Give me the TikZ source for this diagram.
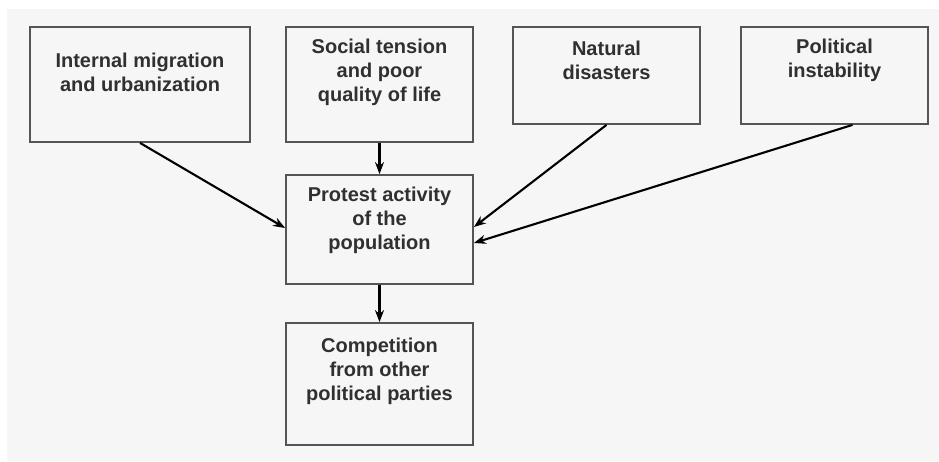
\documentclass[tikz,border=0pt]{standalone}
\usepackage{fontspec}
\setmainfont{Liberation Sans}
\usetikzlibrary{arrows.meta}
\definecolor{boxline}{HTML}{555555}
\definecolor{ink}{HTML}{303030}
\definecolor{paper}{HTML}{F6F6F6}

\begin{document}
\begin{tikzpicture}[x=1pt, y=-1pt,
  box/.style={draw=boxline, line width=1.8pt, inner sep=0pt, minimum width=187pt},
  txt/.style={align=center, text=ink, font=\fontsize{20}{24}\selectfont\bfseries},
  link/.style={->, line width=2.1pt},
  >={Stealth[length=12pt,width=9pt]}]

\useasboundingbox (0,0) rectangle (939,461);
\fill[paper] (7,9) rectangle (939,461);

\node[box, minimum width=220pt, minimum height=115pt] (mig) at (140,84.5) {};
\node[box, minimum height=115pt] (soc) at (379.5,84.5) {};
\node[box, minimum height=97pt] (nat) at (606.5,75.5) {};
\node[box, minimum height=97pt] (pol) at (834.5,75.5) {};
\node[box, minimum height=109pt] (prot) at (379.5,229.5) {};
\node[box, minimum height=122pt] (comp) at (379.5,384) {};

\node[txt] (migT) at (140,72) {Internal migration\\and urbanization};
\node[txt] (socT) at (379.5,72) {Social tension\\and poor\\quality of life};
\node[txt] (natT) at (606.5,60) {Natural\\disasters};
\node[txt] (polT) at (834.5,60) {Political\\instability};
\node[txt] (protT) at (379.5,220) {Protest activity\\of the\\population};
\node[txt] (compT) at (379.5,371) {Competition\\from other\\political parties};

\draw[link] (mig.south) -- ([yshift=1.5pt]prot.west);
\draw[link] (soc.south) -- (prot.north);
\draw[link] (nat.south) -- ([yshift=2.5pt]prot.east);
\draw[link] ([xshift=18pt]pol.south) -- ([yshift=-13.5pt]prot.east);
\draw[link] (prot.south) -- (comp.north);
\end{tikzpicture}
\end{document}
